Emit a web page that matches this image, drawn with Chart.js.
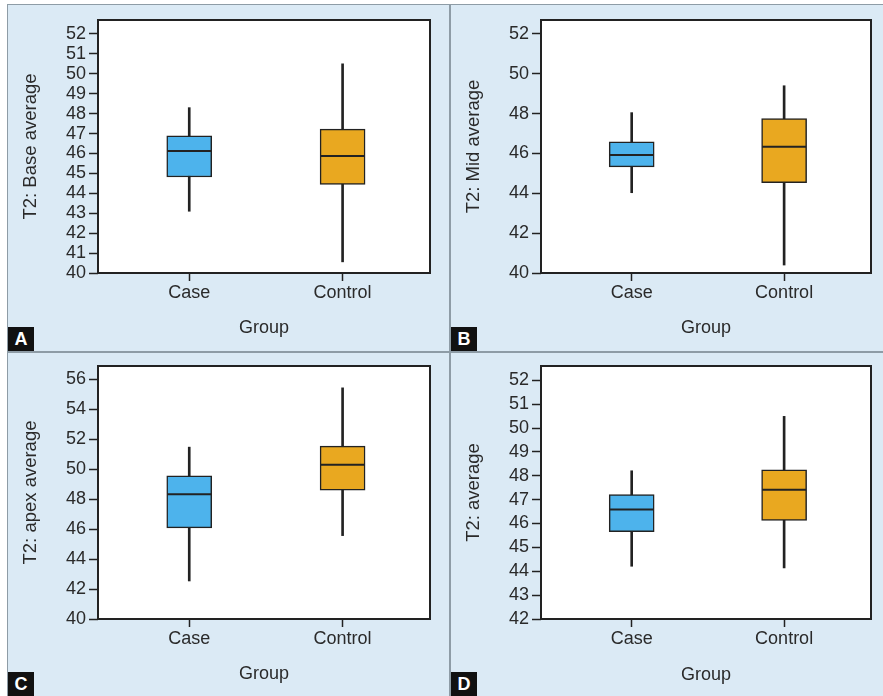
<!DOCTYPE html>
<html>
<head>
<meta charset="utf-8">
<script src="https://cdn.jsdelivr.net/npm/chart.js@4.4.1/dist/chart.umd.min.js"></script>
<style>
  html, body { margin: 0; padding: 0; background: #fff; width: 883px; height: 696px; overflow: hidden; }
  #frame { position: absolute; left: 7px; top: 4px; width: 876px; height: 692px; background: #8e9ca6; }
  .panel { position: absolute; background: #dbeaf5; }
  .panel canvas { display: block; }
  .tag { position: absolute; left: 0; bottom: 0; width: 26px; height: 24px; background: #111; color: #fff;
         font: bold 18px 'Liberation Sans', Arial, sans-serif; text-align: center; line-height: 25px; }
</style>
</head>
<body>
<div id="frame"></div>
<div class="panel" style="left:8px;top:5px;width:441px;height:346px"><canvas id="chart-a" width="441" height="346"></canvas><div class="tag">A</div></div>
<div class="panel" style="left:451px;top:5px;width:432px;height:346px"><canvas id="chart-b" width="432" height="346"></canvas><div class="tag">B</div></div>
<div class="panel" style="left:8px;top:353px;width:441px;height:343px"><canvas id="chart-c" width="441" height="343"></canvas><div class="tag">C</div></div>
<div class="panel" style="left:451px;top:353px;width:432px;height:343px"><canvas id="chart-d" width="432" height="343"></canvas><div class="tag">D</div></div>
<script>
const groups = ['Case', 'Control'];
const boxColors = ['#4db3ec', '#e9a820'];

// each row: [min, q1, median, q3, max]
const baseStats = [[43.1, 44.82, 46.13, 46.88, 48.3], [40.56, 44.45, 45.87, 47.22, 50.5]];
const midStats = [[44.03, 45.33, 45.92, 46.59, 48.05], [40.4, 44.54, 46.34, 47.75, 49.4]];
const apexStats = [[42.54, 46.09, 48.34, 49.57, 51.48], [45.57, 48.6, 50.31, 51.55, 55.44]];
const avgStats = [[44.21, 45.66, 46.59, 47.21, 48.21], [44.14, 46.13, 47.41, 48.25, 50.49]];

const FONT = "'Liberation Sans', Arial, sans-serif";
const INK = '#2a2a2a';

const plotFrame = {
    id: 'plotFrame',
    beforeDraw(chart) {
        const { ctx, chartArea: a } = chart;
        ctx.save();
        ctx.fillStyle = '#fff';
        ctx.fillRect(a.left, a.top, a.width, a.height);
        ctx.restore();
    },
    afterDraw(chart) {
        const { ctx, chartArea: a } = chart;
        ctx.save();
        ctx.strokeStyle = '#222';
        ctx.lineWidth = 2;
        ctx.strokeRect(a.left, a.top, a.width, a.height);
        ctx.restore();
    }
};

function drawPanel(id, yTitle, stats, yMin, yMax, step, box) {
    const ctx = document.getElementById(id);
    new Chart(ctx, {
        type: 'bar',
        data: {
            datasets: [
                {
                    type: 'line',
                    data: groups.map((g, i) => ({ x: i + 1, y: stats[i][2] })),
                    showLine: false,
                    pointStyle: 'line',
                    pointRadius: 22,
                    pointHoverRadius: 22,
                    pointBorderColor: '#222',
                    pointBorderWidth: 2,
                    order: 0
                },
                {
                    data: groups.map((g, i) => ({ x: i + 1, y: [stats[i][1], stats[i][3]] })),
                    backgroundColor: boxColors,
                    borderColor: '#222',
                    borderWidth: 1.5,
                    borderSkipped: false,
                    barThickness: 45,
                    grouped: false,
                    order: 1
                },
                {
                    data: groups.map((g, i) => ({ x: i + 1, y: [stats[i][0], stats[i][4]] })),
                    backgroundColor: '#222',
                    borderWidth: 0,
                    barThickness: 2,
                    grouped: false,
                    order: 2
                }
            ]
        },
        options: {
            responsive: false,
            animation: false,
            devicePixelRatio: 1,
            layout: { autoPadding: false, padding: { top: box.top, right: box.right, left: 0, bottom: 0 } },
            plugins: { legend: { display: false }, tooltip: { enabled: false } },
            scales: {
                x: {
                    type: 'linear',
                    min: 0.405,
                    max: 2.57,
                    offset: false,
                    afterFit: (s) => {
                        s.height = box.xHeight;
                        s.paddingLeft = 0;
                        s.paddingRight = 0;
                    },
                    afterBuildTicks: (s) => { s.ticks = groups.map((g, i) => ({ value: i + 1 })); },
                    border: { display: false },
                    grid: { offset: false, drawOnChartArea: false, color: '#222', tickLength: 8, tickWidth: 1.5 },
                    ticks: {
                        autoSkip: false,
                        maxRotation: 0,
                        padding: 1,
                        color: INK,
                        font: { family: FONT, size: 18 },
                        callback: (v) => groups[v - 1]
                    },
                    title: {
                        display: true,
                        text: 'Group',
                        color: INK,
                        font: { family: FONT, size: 18 },
                        padding: { top: 0, bottom: box.titlePad }
                    }
                },
                y: {
                    min: yMin,
                    max: yMax,
                    afterFit: (s) => {
                        s.width = 90;
                        s.paddingTop = 0;
                        s.paddingBottom = 0;
                    },
                    border: { display: false },
                    grid: { drawOnChartArea: false, color: '#222', tickLength: 9, tickWidth: 1.5 },
                    ticks: {
                        stepSize: step,
                        includeBounds: false,
                        autoSkip: false,
                        padding: 3,
                        color: INK,
                        font: { family: FONT, size: 18 }
                    },
                    title: {
                        display: true,
                        text: yTitle,
                        color: INK,
                        font: { family: FONT, size: 18.5 },
                        padding: { top: 12, bottom: 0 }
                    }
                }
            }
        },
        plugins: [plotFrame]
    });
}

drawPanel('chart-a', 'T2: Base average', baseStats, 40, 52.7, 1, { top: 15, right: 19, xHeight: 78, titlePad: 12 });
drawPanel('chart-b', 'T2: Mid average', midStats, 40, 52.7, 2, { top: 15, right: 12, xHeight: 78, titlePad: 12 });
drawPanel('chart-c', 'T2: apex average', apexStats, 40, 56.9, 2, { top: 13, right: 19, xHeight: 77, titlePad: 11 });
drawPanel('chart-d', 'T2: average', avgStats, 42, 52.6, 1, { top: 13, right: 12, xHeight: 77, titlePad: 10 });
</script>
</body>
</html>
